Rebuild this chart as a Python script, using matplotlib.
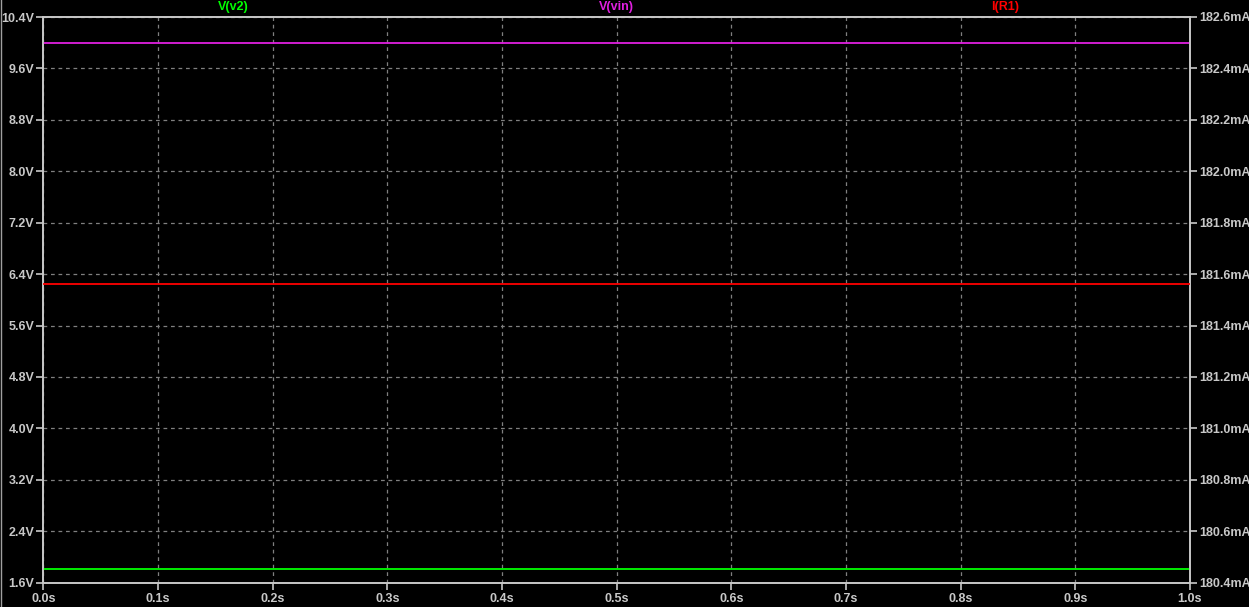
import matplotlib
matplotlib.use("Agg")
import matplotlib.pyplot as plt
import numpy as np

# Data
time_s = [0.0, 1.0]
v_v2 = [1.82, 1.82]          # V
v_vin = [10.0, 10.0]         # V
i_r1 = [181.56, 181.56]      # mA

x_ticks = [0.0, 0.1, 0.2, 0.3, 0.4, 0.5, 0.6, 0.7, 0.8, 0.9, 1.0]
v_ticks = [1.6, 2.4, 3.2, 4.0, 4.8, 5.6, 6.4, 7.2, 8.0, 8.8, 9.6, 10.4]
i_ticks = [180.4, 180.6, 180.8, 181.0, 181.2, 181.4, 181.6, 181.8, 182.0, 182.2, 182.4, 182.6]

W, H = 1249, 607
fig = plt.figure(figsize=(W / 100, H / 100), dpi=100, facecolor="black")
ax = fig.add_axes([43.3 / W, 1 - 582.7 / H, (1190 - 43.3) / W, (582.7 - 17) / H])
ax.set_facecolor("black")
ax2 = ax.twinx()

txt_col = "#bcc4d0"
frame_col = "#c8c8c8"
grid_col = "#808080"
fnt = dict(family="Liberation Sans", weight="bold", size=9)

ax.plot(time_s, v_vin, color="#e020e0", lw=1.3, zorder=3)
ax.plot(time_s, v_v2, color="#00ff00", lw=1.3, zorder=3)
ax2.plot(time_s, i_r1, color="#ff0000", lw=1.3, zorder=3)

ax.set_xlim(0, 1)
ax.set_ylim(1.6, 10.4)
ax2.set_ylim(180.4, 182.6)
ax.set_xticks(x_ticks)
ax.set_xticklabels([f"{t:.1f}s" for t in x_ticks], fontdict=fnt, color=txt_col)
ax.set_yticks(v_ticks)
ax.set_yticklabels([f"{v:.1f}V" for v in v_ticks], fontdict=fnt, color=txt_col)
ax2.set_yticks(i_ticks)
ax2.set_yticklabels([f"{v:.1f}mA" for v in i_ticks], fontdict=fnt, color=txt_col)

ax.grid(True, color=grid_col, linestyle=(0, (3, 3)), linewidth=0.9)
ax.set_axisbelow(True)
for a in (ax, ax2):
    for s in a.spines.values():
        s.set_color(frame_col)
        s.set_linewidth(1.2)
    a.tick_params(colors=frame_col, length=5, width=1.2, pad=1.5)
ax.tick_params(axis="x", pad=2.5)

fig.text(233 / W, 1 - 7 / H, "V(v2)", color="#00ff00", ha="center", va="center", **fnt)
fig.text(616 / W, 1 - 7 / H, "V(vin)", color="#e020e0", ha="center", va="center", **fnt)
fig.text(1005 / W, 1 - 7 / H, "I(R1)", color="#ff0000", ha="center", va="center", **fnt)

fig.add_artist(plt.Line2D([0.5 / W, 0.5 / W], [0, 1], color="#a0a0a0", lw=1.0, transform=fig.transFigure))

fig.savefig("out.png", dpi=100, facecolor="black")
